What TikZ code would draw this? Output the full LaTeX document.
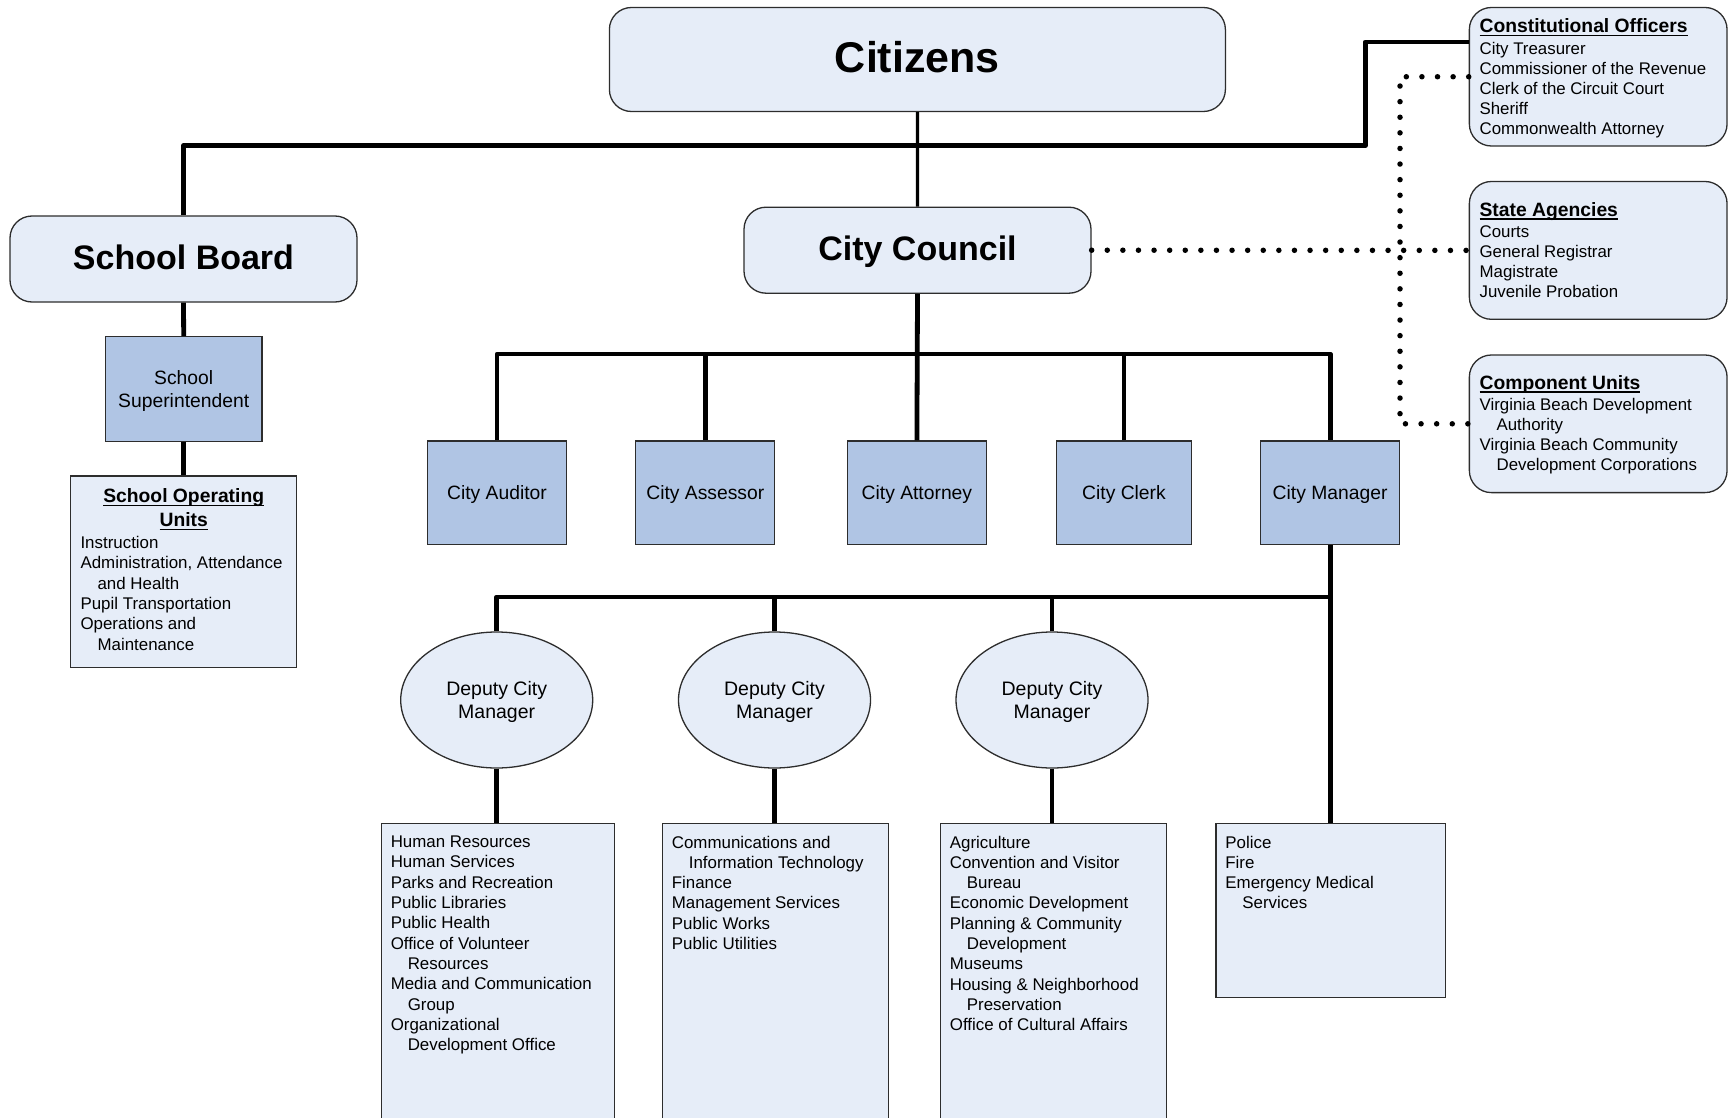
\documentclass[tikz,border=0pt]{standalone}
\usepackage{fontspec}
\setmainfont{Liberation Sans}
\usetikzlibrary{shapes.geometric,calc}
\definecolor{lightfill}{RGB}{230,237,248}
\definecolor{midfill}{RGB}{176,197,228}
\definecolor{edgegray}{RGB}{45,45,45}
\newsavebox{\hdbox}
\newcommand{\hdul}[1]{\sbox{\hdbox}{#1}\rlap{\rule[-3.4pt]{\wd\hdbox}{1.5pt}}\usebox{\hdbox}}
\newcommand{\hangi}{\hspace*{17pt}}
\newcommand{\headf}{\fontsize{19.3}{22}\selectfont\bfseries}
\begin{document}
\begin{tikzpicture}[x=1pt,y=-1pt,
  rbox/.style={draw=edgegray, line width=1.3pt, fill=lightfill, rounded corners=22pt, inner sep=0pt},
  bigtxt/.style={text depth=4.4pt},
  sqbox/.style={draw=edgegray, line width=1.3pt, fill=midfill, inner sep=0pt, align=center, text depth=0pt, font=\fontsize{19.3}{23.3}\selectfont},
  lbox/.style={draw=edgegray, line width=1.3pt, fill=lightfill, inner sep=0pt},
  dep/.style={ellipse, draw=edgegray, line width=1.3pt, fill=lightfill, inner sep=0pt, minimum width=192pt, minimum height=136pt, align=center, text depth=0pt, font=\fontsize{19.5}{23}\selectfont},
  conn/.style={line width=4.8pt, line join=round},
  dotconn/.style={line width=5.5pt, line cap=round, dash pattern=on 0pt off 15.6pt},
  ltext/.style={inner sep=0pt, align=left, anchor=north west, font=\fontsize{16.9}{20.33}\selectfont},
  rtext/.style={ltext, font=\fontsize{16.85}{20}\selectfont},
]
\useasboundingbox (0,0) rectangle (1728,1118);

% top level
\node[rbox, bigtxt, minimum width=616pt, minimum height=104pt, font=\fontsize{43}{50}\selectfont\bfseries] (cit) at (917.4,59.5) {Citizens};
\node[rbox, bigtxt, minimum width=347pt, minimum height=86pt, font=\fontsize{34}{40}\selectfont\bfseries] (cc) at (917.5,250.2) {City Council};
\node[rbox, bigtxt, minimum width=347pt, minimum height=86pt, font=\fontsize{34}{40}\selectfont\bfseries] (sb) at (183.5,259) {School Board};

% school side
\node[sqbox, minimum width=156.7pt, minimum height=104.6pt] (ss) at (183.7,389) {School\\Superintendent};
\node[lbox, minimum width=226pt, minimum height=191.3pt] (sou) at (183.7,571.6) {};
\node[inner sep=0pt, align=center, anchor=north, font=\headf, text depth=0pt] (souh) at ($(sou.north)+(0,13.5)$) {\hdul{School Operating}\\[1.8pt]\hdul{Units}};
\node[ltext] (soul) at ($(sou.north west)+(10.3,60.7)$) {Instruction\\Administration, Attendance\\\hangi and Health\\Pupil Transportation\\Operations and\\\hangi Maintenance};

% council level 2
\node[sqbox, minimum width=139pt, minimum height=103.5pt] (aud) at (497,492.7) {City Auditor};
\node[sqbox, minimum width=139pt, minimum height=103.5pt] (ass) at (705.3,492.7) {City Assessor};
\node[sqbox, minimum width=139pt, minimum height=103.5pt] (att) at (916.9,492.7) {City Attorney};
\node[sqbox, minimum width=134.5pt, minimum height=103.5pt] (clk) at (1124,492.7) {City Clerk};
\node[sqbox, minimum width=139pt, minimum height=103.5pt] (mgr) at (1330.1,492.7) {City Manager};

% deputies
\node[dep] (d1) at (496.7,700) {Deputy City\\Manager};
\node[dep] (d2) at (774.5,700) {Deputy City\\Manager};
\node[dep] (d3) at (1052,700) {Deputy City\\Manager};

% bottom boxes
\node[lbox, minimum width=232.6pt, minimum height=310pt] (b1) at (498,978.3) {};
\node[lbox, minimum width=225.6pt, minimum height=310pt] (b2) at (775.5,978.3) {};
\node[lbox, minimum width=226pt, minimum height=310pt] (b3) at (1053.7,978.3) {};
\node[lbox, minimum width=229.3pt, minimum height=174.4pt] (pol) at (1330.5,910.5) {};

\node[ltext] (b1t) at ($(b1.north west)+(9.5,12.9)$) {Human Resources\\Human Services\\Parks and Recreation\\Public Libraries\\Public Health\\Office of Volunteer\\\hangi Resources\\Media and Communication\\\hangi Group\\Organizational\\\hangi Development Office};
\node[ltext] (b2t) at ($(b2.north west)+(9.6,12.9)$) {Communications and\\\hangi Information Technology\\Finance\\Management Services\\Public Works\\Public Utilities};
\node[ltext] (b3t) at ($(b3.north west)+(9.6,12.9)$) {Agriculture\\Convention and Visitor\\\hangi Bureau\\Economic Development\\Planning \& Community\\\hangi Development\\Museums\\Housing \& Neighborhood\\\hangi Preservation\\Office of Cultural Affairs};
\node[ltext] (polt) at ($(pol.north west)+(10,12.9)$) {Police\\Fire\\Emergency Medical\\\hangi Services};

% right side boxes
\node[rbox, minimum width=257.7pt, minimum height=138.5pt] (co) at (1598.2,76.75) {};
\node[rbox, minimum width=257.7pt, minimum height=137.8pt] (sa) at (1598.2,250.4) {};
\node[rbox, minimum width=257.7pt, minimum height=137.6pt] (cu) at (1598.2,423.8) {};

\node[rtext] (cot) at ($(co.north west)+(10.7,11.6)$) {{\headf\hdul{Constitutional Officers}}\\[2.2pt]City Treasurer\\Commissioner of the Revenue\\Clerk of the Circuit Court\\Sheriff\\Commonwealth Attorney};
\node[rtext] (sat) at ($(sa.north west)+(10.7,21.2)$) {{\headf\hdul{State Agencies}}\\[1.3pt]Courts\\General Registrar\\Magistrate\\Juvenile Probation};
\node[rtext] (cut) at ($(cu.north west)+(10.7,21)$) {{\headf\hdul{Component Units}}\\[1.3pt]Virginia Beach Development\\\hangi Authority\\Virginia Beach Community\\\hangi Development Corporations};

% connectors
\coordinate (mainbus) at (917.4,145.5);
\coordinate (cobend) at (1365.4,42);
\coordinate (cbus) at (917,354);
\coordinate (mbus) at (1330,597);
\coordinate (dv) at (1400,250);

\draw[conn] (sb.north) -- (sb.north |- mainbus) -- (cobend |- mainbus) -- (cobend) -- (cobend -| co.west);
\draw[line width=3.2pt] (cit.south) -- (cc.north);

\draw[conn] (sb.south) -- (ss.north);
\draw[conn] (ss.south) -- (sou.north);

\draw[conn] (cc.south) -- (att.north);
\draw[conn] (aud.north) -- (aud.north |- cbus) -- (mgr.north |- cbus) -- (mgr.north);
\draw[conn] (ass.north) -- (ass.north |- cbus);
\draw[conn] (clk.north) -- (clk.north |- cbus);

\draw[conn] (mgr.south) -- (mgr.south |- pol.north);
\draw[conn] (d1.north) -- (d1.north |- mbus) -- (mgr.south |- mbus);
\draw[conn] (d2.north) -- (d2.north |- mbus);
\draw[conn] (d3.north) -- (d3.north |- mbus);
\draw[conn] (d1.south) -- (d1.south |- b1.north);
\draw[conn] (d2.south) -- (d2.south |- b2.north);
\draw[conn] (d3.south) -- (d3.south |- b3.north);

\draw[dotconn] (cc.east) -- (sa.west);
\draw[dotconn] (co.west) -- (co.west -| dv) -- (cu.west -| dv) -- (cu.west);
\end{tikzpicture}
\end{document}
